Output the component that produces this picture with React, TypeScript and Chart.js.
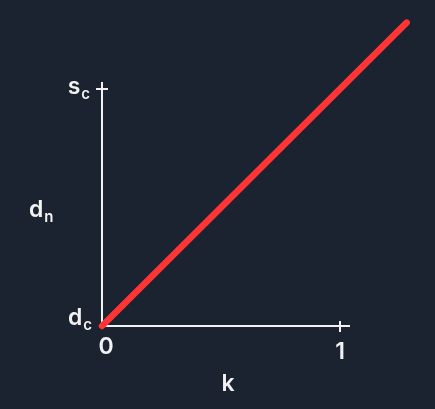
import { useEffect, useRef } from "react";
import { Chart, registerables } from "chart.js";
Chart.register(...registerables);

// data
const lineK = [0, 1.28];
const lineD = [0, 1.28];
const xTickValues = [0, 1];
const xTickLabels = ["0", "1"];
const yTickValues = [0, 1];
const yTickMain = ["d", "s"];
const yTickSub = ["c", "c"];
const xTitle = "k";
const yTitleMain = "d";
const yTitleSub = "n";
const xAxisEnd = 1.042;
const yAxisEnd = 1.03;

const BG = "#1b2230";
const FG = "#f2f2f2";
const RED = "#ff3535";
const FONT = "Inter, 'Open Sans', sans-serif";
const MAIN = `600 23px ${FONT}`;
const SUB = `600 15px ${FONT}`;

export default function App() {
  const ref = useRef<HTMLCanvasElement | null>(null);
  useEffect(() => {
    document.body.style.margin = "0";
    const canvas = ref.current!;
    const axesPlugin = {
      id: "axesPlugin",
      beforeDraw(chart: any) {
        const c = chart.ctx;
        c.save();
        c.fillStyle = BG;
        c.fillRect(0, 0, chart.width, chart.height);
        c.restore();
      },
      beforeDatasetsDraw(chart: any) {
        const c = chart.ctx;
        const xs = chart.scales.x;
        const ys = chart.scales.y;
        const X = (v: number) => xs.getPixelForValue(v);
        const Y = (v: number) => ys.getPixelForValue(v);
        c.save();
        c.strokeStyle = FG;
        c.lineWidth = 2;
        c.beginPath();
        c.moveTo(X(0), Y(0));
        c.lineTo(X(xAxisEnd), Y(0));
        c.moveTo(X(0), Y(0));
        c.lineTo(X(0), Y(yAxisEnd));
        xTickValues.forEach((v) => {
          if (v !== 0) {
            c.moveTo(X(v), Y(0) - 5);
            c.lineTo(X(v), Y(0) + 6);
          }
        });
        yTickValues.forEach((v) => {
          if (v !== 0) {
            c.moveTo(X(0) - 6, Y(v));
            c.lineTo(X(0) + 6, Y(v));
          }
        });
        c.stroke();

        c.fillStyle = FG;
        c.textBaseline = "alphabetic";
        // x tick labels
        c.font = MAIN;
        c.textAlign = "center";
        xTickValues.forEach((v, i) => {
          const dx = v === 0 ? 4 : 0;
          const dy = v === 0 ? 28 : 33;
          c.fillText(xTickLabels[i], X(v) + dx, Y(0) + dy);
        });
        // y tick labels (main + subscript), right aligned
        yTickValues.forEach((v, i) => {
          c.font = SUB;
          const sw = c.measureText(yTickSub[i]).width;
          c.font = MAIN;
          const mw = c.measureText(yTickMain[i]).width;
          const right = X(0) - (v === 0 ? 10 : 12);
          const base = v === 0 ? Y(v) - 1 : Y(v) + 5;
          c.textAlign = "left";
          c.fillText(yTickMain[i], right - sw - mw - 1, base);
          c.font = SUB;
          c.fillText(yTickSub[i], right - sw, base + 5);
        });
        // x title
        c.font = MAIN;
        c.textAlign = "center";
        c.fillText(xTitle, X(0.53), Y(0) + 65);
        // y title
        c.textAlign = "left";
        const tx = X(0) - 73;
        const ty = Y(0.46);
        c.fillText(yTitleMain, tx, ty);
        const mw2 = c.measureText(yTitleMain).width;
        c.font = SUB;
        c.fillText(yTitleSub, tx + mw2 + 1, ty + 5);
        c.restore();
      },
    };
    const chart = new Chart(canvas, {
      type: "scatter",
      data: {
        datasets: [
          {
            data: lineK.map((k, i) => ({ x: k, y: lineD[i] })),
            showLine: true,
            borderColor: RED,
            borderWidth: 6.5,
            borderCapStyle: "round",
            pointRadius: 0,
            pointHoverRadius: 0,
          } as any,
        ],
      },
      options: {
        animation: false,
        responsive: false,
        maintainAspectRatio: false,
        layout: { padding: 0 },
        plugins: { legend: { display: false }, tooltip: { enabled: false } },
        events: [],
        scales: {
          x: { type: "linear", display: false, min: -0.4286, max: 1.3992 },
          y: { type: "linear", display: false, min: -0.3502, max: 1.3755 },
        },
      },
      plugins: [axesPlugin],
    });
    return () => chart.destroy();
  }, []);
  return (
    <div style={{ position: "fixed", left: 0, top: 0, width: 435, height: 409, background: BG }}>
      <canvas ref={ref} width={435} height={409} />
    </div>
  );
}
